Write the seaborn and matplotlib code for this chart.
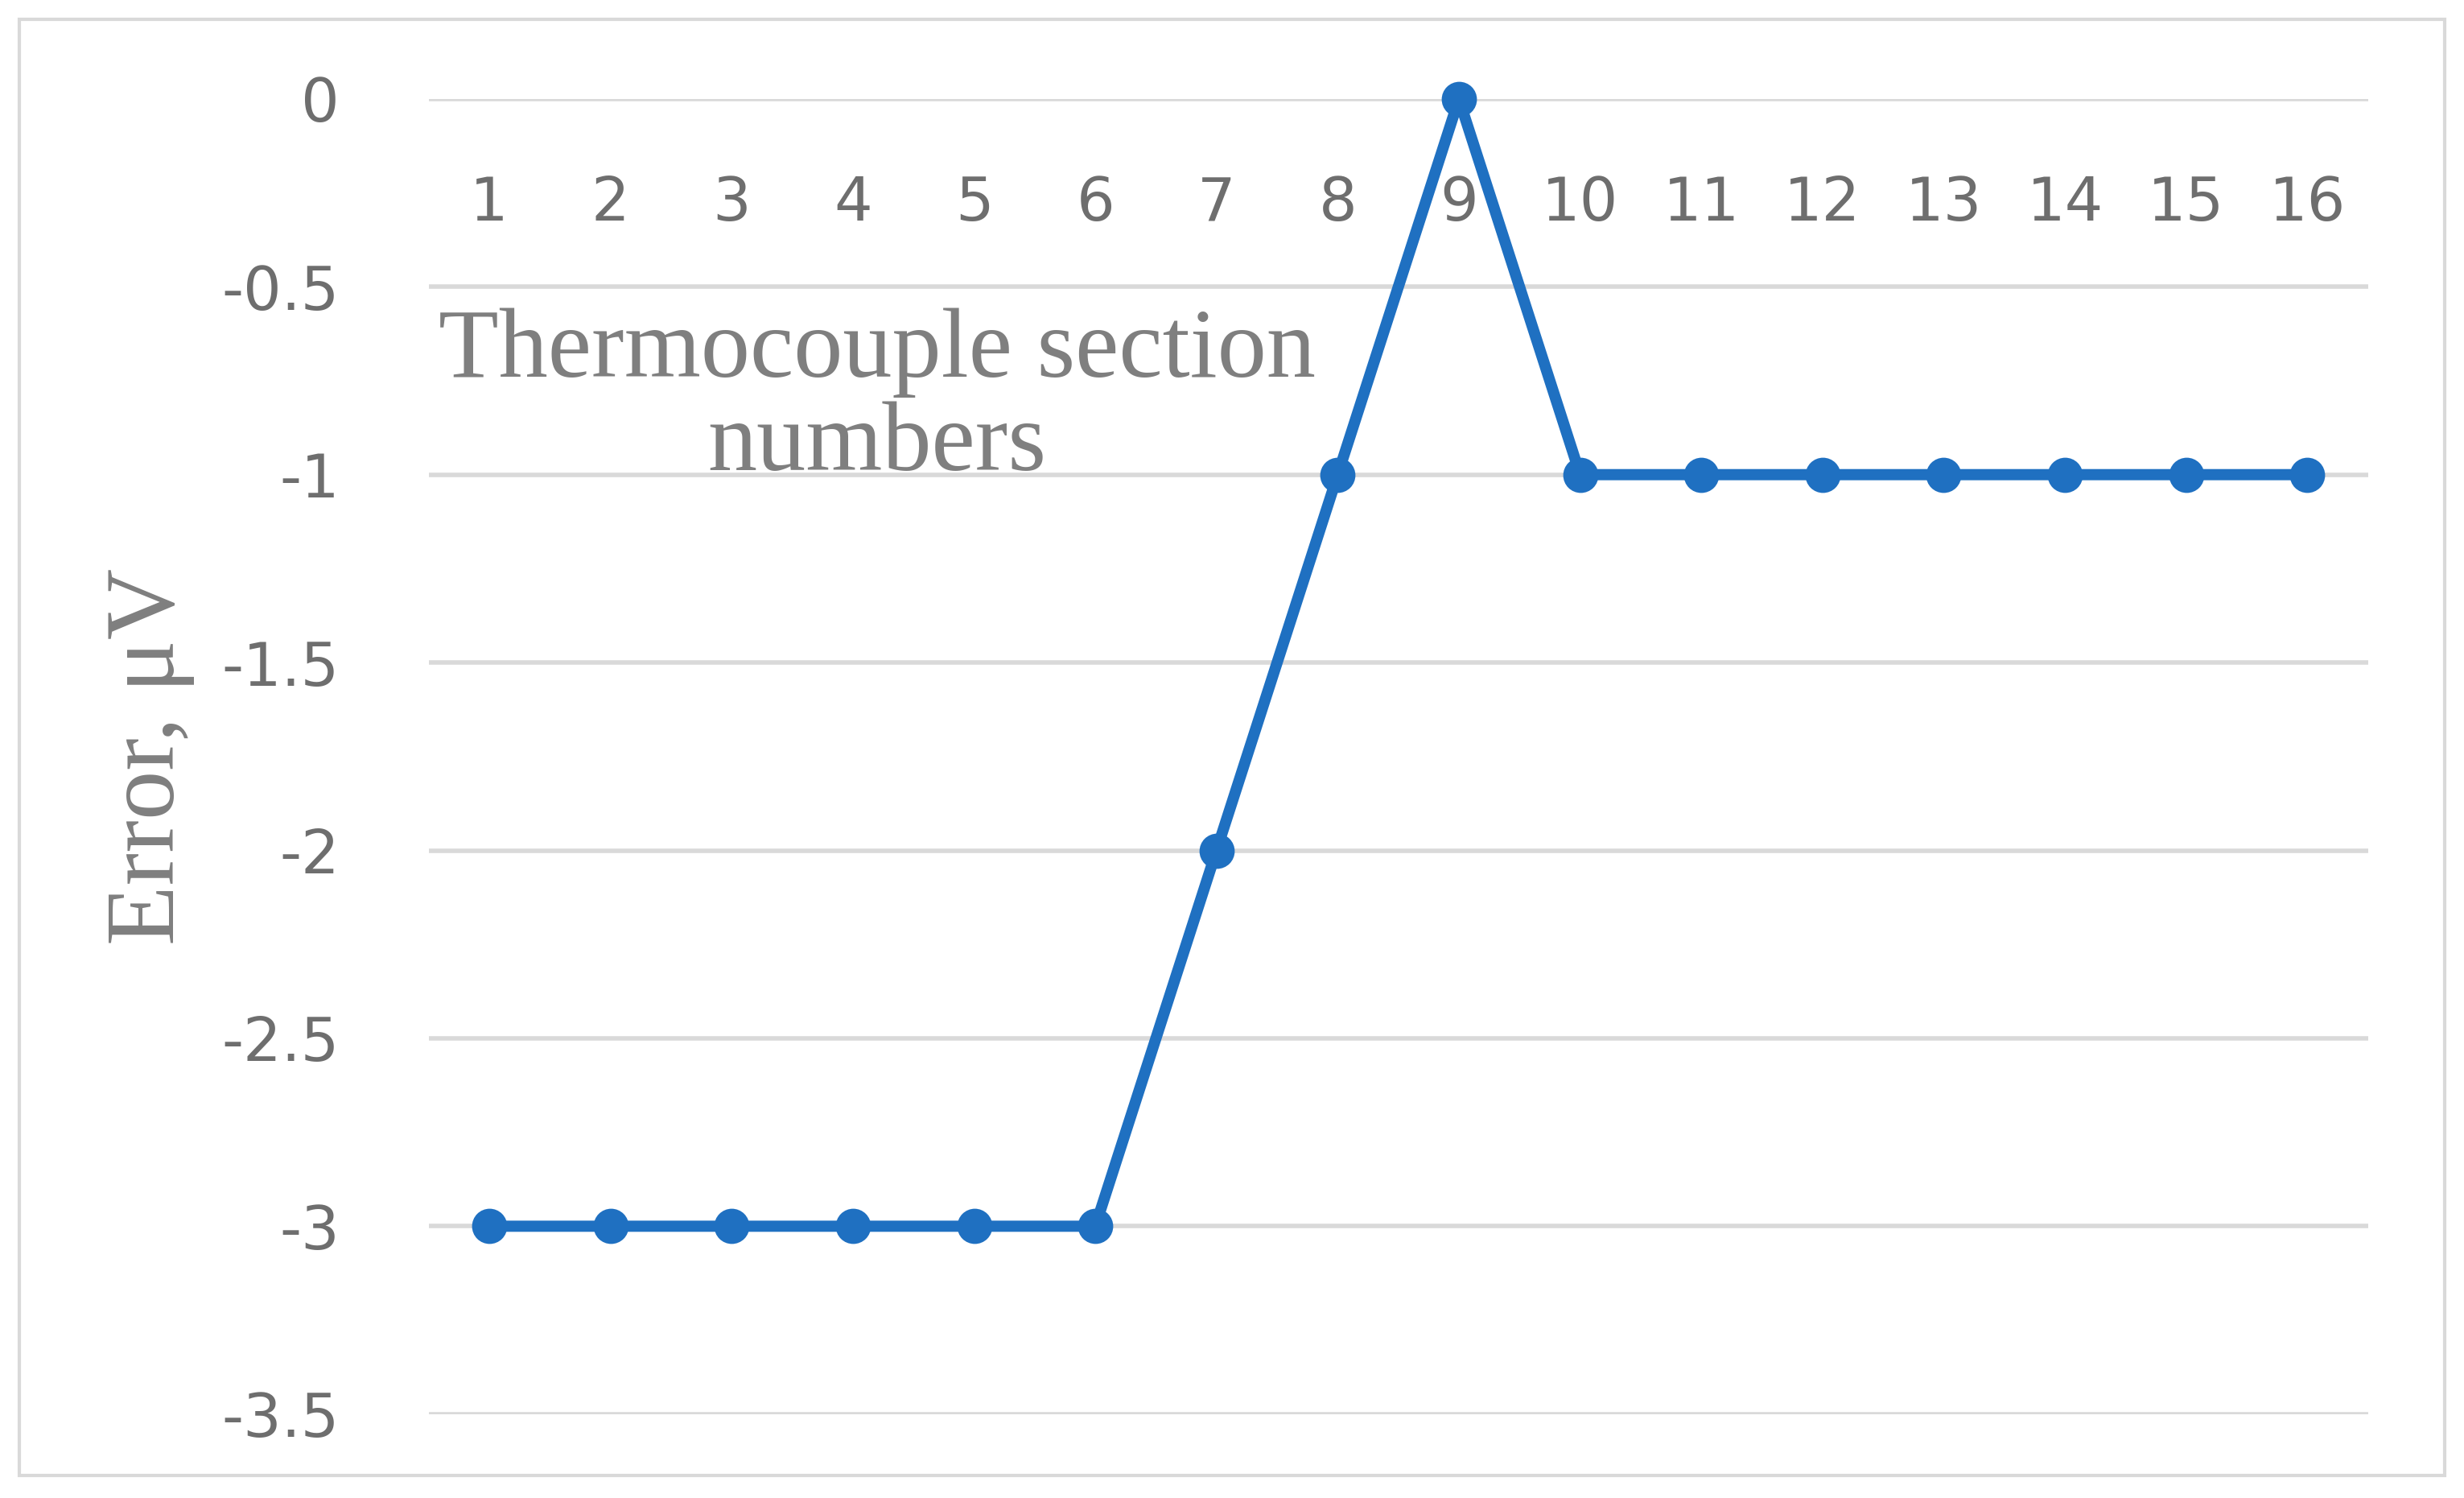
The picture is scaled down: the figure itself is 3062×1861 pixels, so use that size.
import matplotlib
matplotlib.use("Agg")
import matplotlib.pyplot as plt
import seaborn as sns
import pandas as pd

# thermocouple section numbers and measured error
sections = list(range(1, 17))
error_uv = [-3, -3, -3, -3, -3, -3, -2, -1, 0, -1, -1, -1, -1, -1, -1, -1]

df = pd.DataFrame({"section": sections, "error": error_uv})

sns.set_theme(style="white")
fig = plt.figure(figsize=(15.31, 9.305), dpi=200)
ax = fig.add_axes([0.174, 0.056, 0.787, 0.878])

# outer frame like the spreadsheet chart border
fig.patches.append(plt.Rectangle((0.008, 0.015), 0.984, 0.972, transform=fig.transFigure,
                                 fill=False, edgecolor="#d9d9d9", linewidth=1.5))

sns.lineplot(x="section", y="error", data=df, ax=ax, color="#1f70c1", linewidth=5,
             marker="o", markersize=15, markeredgecolor="#1f70c1", clip_on=False)

ax.set_xlim(0.5, 16.5)
ax.set_ylim(-3.5, 0)
ax.set_yticks([0, -0.5, -1, -1.5, -2, -2.5, -3, -3.5])
ax.set_yticklabels(["0", "-0.5", "-1", "-1.5", "-2", "-2.5", "-3", "-3.5"])
ax.yaxis.grid(True, color="#d9d9d9", linewidth=2)
for s in ax.spines.values():
    s.set_visible(False)
ax.tick_params(axis="y", length=0, labelsize=27, labelcolor="#6e6e6e", pad=40)

# category labels sit near the top, inside the plot
ax.set_xticks(sections)
ax.set_xticklabels([])
for s in sections:
    ax.text(s, -0.28, str(s), ha="center", va="center", fontsize=27, color="#6e6e6e")
ax.tick_params(axis="x", length=0)

ax.text(4.2, -0.80, "Thermocouple section\nnumbers", ha="center", va="center",
        fontsize=44, color="#7f7f7f", family="Liberation Serif", linespacing=1.05)
ax.set_xlabel("")
ax.set_ylabel("Error, μV", fontsize=44, color="#7f7f7f", family="Liberation Serif", labelpad=12)

fig.savefig("out.png", dpi=200)
